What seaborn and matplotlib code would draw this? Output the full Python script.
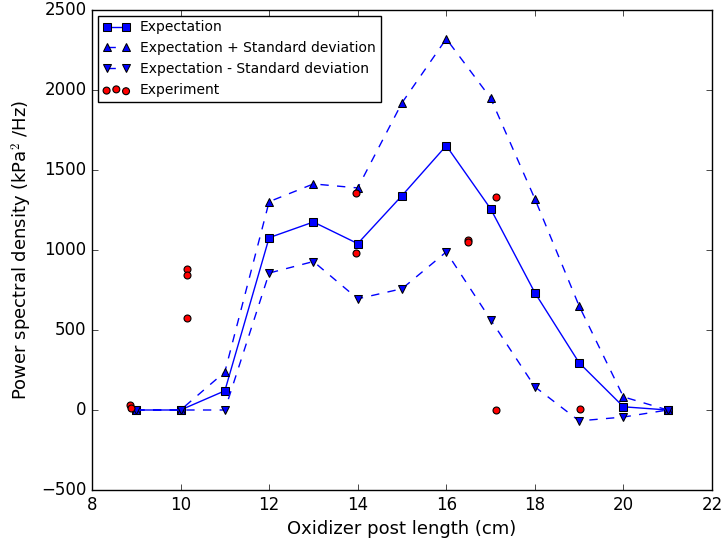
import matplotlib
matplotlib.use("Agg")
import matplotlib.pyplot as plt
import seaborn as sns
import pandas as pd

plt.style.use("classic")

lengths = [9, 10, 11, 12, 13, 14, 15, 16, 17, 18, 19, 20, 21]
expectation = [0, 0, 120, 1077, 1175, 1040, 1340, 1652, 1258, 733, 295, 20, 0]
exp_plus_sd = [0, 0, 238, 1302, 1413, 1388, 1920, 2320, 1950, 1320, 650, 82, 0]
exp_minus_sd = [0, 0, 0, 856, 928, 695, 758, 988, 565, 145, -68, -44, 0]

exp_x = [8.85, 8.88, 10.15, 10.15, 10.15, 13.97, 13.97, 16.5, 16.5, 17.12, 17.12, 19.02]
exp_y = [30, 12, 880, 845, 575, 1355, 982, 1062, 1047, 1330, 2, 5]

df = pd.DataFrame({"x": lengths, "mean": expectation, "plus": exp_plus_sd, "minus": exp_minus_sd})
dfe = pd.DataFrame({"x": exp_x, "y": exp_y})

fig = plt.figure(figsize=(7.25, 5.46), dpi=100, facecolor="white")
ax = fig.add_axes([92 / 725, 1 - 490 / 546, 620 / 725, 480 / 546])

ms = 6
sns.lineplot(data=df, x="x", y="mean", ax=ax, color="b", marker="s", markersize=ms,
             markeredgecolor="k", linestyle="-", label="Expectation")
sns.lineplot(data=df, x="x", y="plus", ax=ax, color="b", marker="^", markersize=ms,
             markeredgecolor="k", linestyle="--", label="Expectation + Standard deviation")
sns.lineplot(data=df, x="x", y="minus", ax=ax, color="b", marker="v", markersize=ms,
             markeredgecolor="k", linestyle="--", label="Expectation - Standard deviation")
sns.scatterplot(data=dfe, x="x", y="y", ax=ax, color="r", edgecolor="k", s=25,
                linewidth=0.8, label="Experiment", zorder=3)

ax.set_xlim(8, 22)
ax.set_ylim(-500, 2500)
ax.set_xticks(range(8, 23, 2))
ax.set_yticks(range(-500, 2501, 500))
ax.set_xlabel("Oxidizer post length (cm)", fontsize=13)
ax.set_ylabel("Power spectral density (kPa$^2$ /Hz)", fontsize=13)
ax.tick_params(labelsize=12)
leg = ax.legend(loc="upper left", fontsize=10, numpoints=2, scatterpoints=3,
                fancybox=False, borderaxespad=0.4, handletextpad=0.7,
                handlelength=2.0, borderpad=0.35, labelspacing=0.5)
leg.get_frame().set_edgecolor("k")

fig.savefig("out.png", dpi=100, facecolor="white")
